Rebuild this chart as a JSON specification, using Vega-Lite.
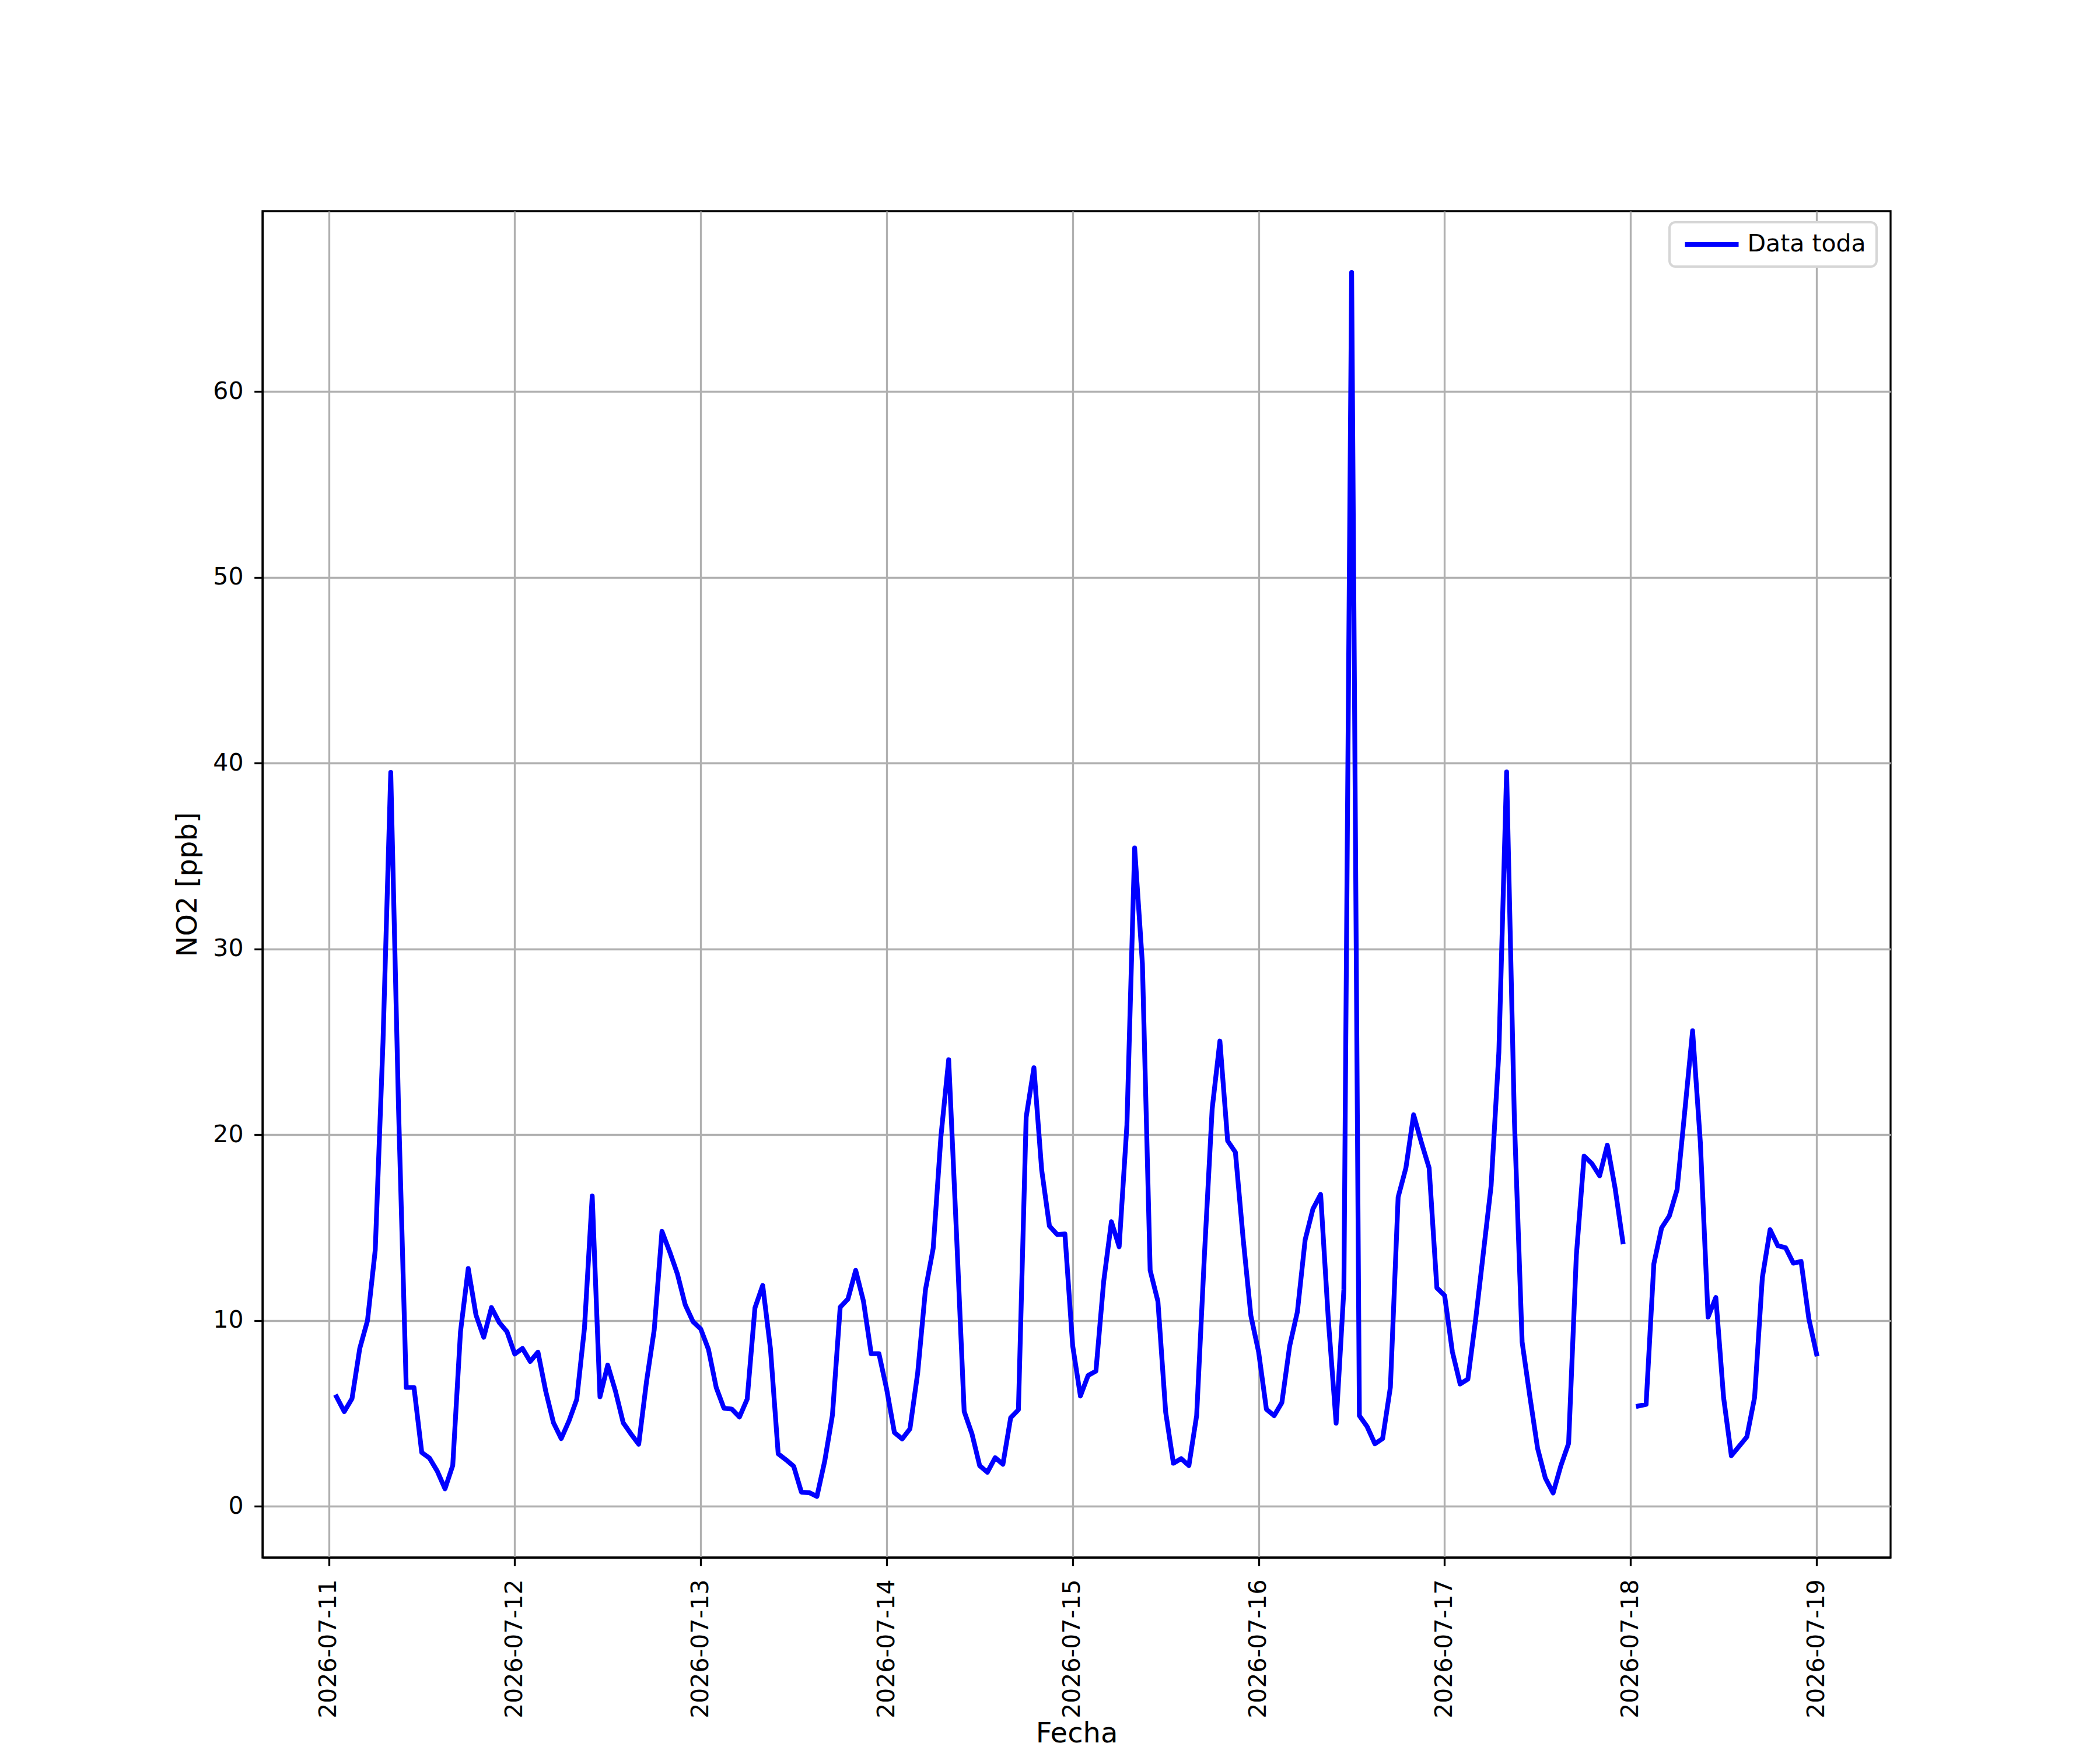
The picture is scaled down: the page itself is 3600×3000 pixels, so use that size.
{
  "$schema": "https://vega.github.io/schema/vega-lite/v6.json",
  "width": 2791,
  "height": 2308,
  "autosize": {"type": "none"},
  "padding": {"left": 450, "top": 362, "right": 359, "bottom": 330},
  "background": "white",
  "config": {
    "font": "DejaVu Sans",
    "view": {"stroke": "black", "strokeWidth": 3.3},
    "legend": {"strokeWidth": 4}
  },
  "data": {
    "values": [
      {"t": "2026-07-11T01:00", "v": 5.9}, {"t": "2026-07-11T02:00", "v": 5.1}, {"t": "2026-07-11T03:00", "v": 5.8},
      {"t": "2026-07-11T04:00", "v": 8.5}, {"t": "2026-07-11T05:00", "v": 10.0}, {"t": "2026-07-11T06:00", "v": 13.8},
      {"t": "2026-07-11T07:00", "v": 25.0}, {"t": "2026-07-11T08:00", "v": 39.5}, {"t": "2026-07-11T09:00", "v": 21.5},
      {"t": "2026-07-11T10:00", "v": 6.4}, {"t": "2026-07-11T11:00", "v": 6.4}, {"t": "2026-07-11T12:00", "v": 2.9},
      {"t": "2026-07-11T13:00", "v": 2.6}, {"t": "2026-07-11T14:00", "v": 1.9}, {"t": "2026-07-11T15:00", "v": 0.95},
      {"t": "2026-07-11T16:00", "v": 2.2}, {"t": "2026-07-11T17:00", "v": 9.4}, {"t": "2026-07-11T18:00", "v": 12.8},
      {"t": "2026-07-11T19:00", "v": 10.3}, {"t": "2026-07-11T20:00", "v": 9.1}, {"t": "2026-07-11T21:00", "v": 10.7},
      {"t": "2026-07-11T22:00", "v": 9.9}, {"t": "2026-07-11T23:00", "v": 9.4},
      {"t": "2026-07-12T00:00", "v": 8.2}, {"t": "2026-07-12T01:00", "v": 8.5}, {"t": "2026-07-12T02:00", "v": 7.8},
      {"t": "2026-07-12T03:00", "v": 8.3}, {"t": "2026-07-12T04:00", "v": 6.2}, {"t": "2026-07-12T05:00", "v": 4.5},
      {"t": "2026-07-12T06:00", "v": 3.65}, {"t": "2026-07-12T07:00", "v": 4.6}, {"t": "2026-07-12T08:00", "v": 5.75},
      {"t": "2026-07-12T09:00", "v": 9.6}, {"t": "2026-07-12T10:00", "v": 16.7}, {"t": "2026-07-12T11:00", "v": 5.9},
      {"t": "2026-07-12T12:00", "v": 7.6}, {"t": "2026-07-12T13:00", "v": 6.2}, {"t": "2026-07-12T14:00", "v": 4.5},
      {"t": "2026-07-12T15:00", "v": 3.9}, {"t": "2026-07-12T16:00", "v": 3.35}, {"t": "2026-07-12T17:00", "v": 6.7},
      {"t": "2026-07-12T18:00", "v": 9.5}, {"t": "2026-07-12T19:00", "v": 14.8}, {"t": "2026-07-12T20:00", "v": 13.7},
      {"t": "2026-07-12T21:00", "v": 12.5}, {"t": "2026-07-12T22:00", "v": 10.85}, {"t": "2026-07-12T23:00", "v": 9.95},
      {"t": "2026-07-13T00:00", "v": 9.55}, {"t": "2026-07-13T01:00", "v": 8.45}, {"t": "2026-07-13T02:00", "v": 6.4},
      {"t": "2026-07-13T03:00", "v": 5.28}, {"t": "2026-07-13T04:00", "v": 5.24}, {"t": "2026-07-13T05:00", "v": 4.81},
      {"t": "2026-07-13T06:00", "v": 5.78}, {"t": "2026-07-13T07:00", "v": 10.68}, {"t": "2026-07-13T08:00", "v": 11.89},
      {"t": "2026-07-13T09:00", "v": 8.49}, {"t": "2026-07-13T10:00", "v": 2.83}, {"t": "2026-07-13T11:00", "v": 2.51},
      {"t": "2026-07-13T12:00", "v": 2.16}, {"t": "2026-07-13T13:00", "v": 0.76}, {"t": "2026-07-13T14:00", "v": 0.74},
      {"t": "2026-07-13T15:00", "v": 0.54}, {"t": "2026-07-13T16:00", "v": 2.43}, {"t": "2026-07-13T17:00", "v": 4.92},
      {"t": "2026-07-13T18:00", "v": 10.72}, {"t": "2026-07-13T19:00", "v": 11.16}, {"t": "2026-07-13T20:00", "v": 12.7},
      {"t": "2026-07-13T21:00", "v": 11.05}, {"t": "2026-07-13T22:00", "v": 8.22}, {"t": "2026-07-13T23:00", "v": 8.22},
      {"t": "2026-07-14T00:00", "v": 6.3}, {"t": "2026-07-14T01:00", "v": 3.97}, {"t": "2026-07-14T02:00", "v": 3.63},
      {"t": "2026-07-14T03:00", "v": 4.17}, {"t": "2026-07-14T04:00", "v": 7.18}, {"t": "2026-07-14T05:00", "v": 11.65},
      {"t": "2026-07-14T06:00", "v": 13.89}, {"t": "2026-07-14T07:00", "v": 19.91}, {"t": "2026-07-14T08:00", "v": 24.04},
      {"t": "2026-07-14T09:00", "v": 14.75}, {"t": "2026-07-14T10:00", "v": 5.11}, {"t": "2026-07-14T11:00", "v": 3.91},
      {"t": "2026-07-14T12:00", "v": 2.19}, {"t": "2026-07-14T13:00", "v": 1.84}, {"t": "2026-07-14T14:00", "v": 2.62},
      {"t": "2026-07-14T15:00", "v": 2.27}, {"t": "2026-07-14T16:00", "v": 4.77}, {"t": "2026-07-14T17:00", "v": 5.2},
      {"t": "2026-07-14T18:00", "v": 20.95}, {"t": "2026-07-14T19:00", "v": 23.61}, {"t": "2026-07-14T20:00", "v": 18.11},
      {"t": "2026-07-14T21:00", "v": 15.09}, {"t": "2026-07-14T22:00", "v": 14.63}, {"t": "2026-07-14T23:00", "v": 14.66},
      {"t": "2026-07-15T00:00", "v": 8.65}, {"t": "2026-07-15T01:00", "v": 5.94}, {"t": "2026-07-15T02:00", "v": 7.05},
      {"t": "2026-07-15T03:00", "v": 7.28}, {"t": "2026-07-15T04:00", "v": 12.09}, {"t": "2026-07-15T05:00", "v": 15.32},
      {"t": "2026-07-15T06:00", "v": 13.97}, {"t": "2026-07-15T07:00", "v": 20.52}, {"t": "2026-07-15T08:00", "v": 35.43},
      {"t": "2026-07-15T09:00", "v": 29.2}, {"t": "2026-07-15T10:00", "v": 12.7}, {"t": "2026-07-15T11:00", "v": 11.04},
      {"t": "2026-07-15T12:00", "v": 5.08}, {"t": "2026-07-15T13:00", "v": 2.32}, {"t": "2026-07-15T14:00", "v": 2.57},
      {"t": "2026-07-15T15:00", "v": 2.2}, {"t": "2026-07-15T16:00", "v": 4.89}, {"t": "2026-07-15T17:00", "v": 13.5},
      {"t": "2026-07-15T18:00", "v": 21.38}, {"t": "2026-07-15T19:00", "v": 25.04}, {"t": "2026-07-15T20:00", "v": 19.67},
      {"t": "2026-07-15T21:00", "v": 19.06}, {"t": "2026-07-15T22:00", "v": 14.41}, {"t": "2026-07-15T23:00", "v": 10.26},
      {"t": "2026-07-16T00:00", "v": 8.3}, {"t": "2026-07-16T01:00", "v": 5.23}, {"t": "2026-07-16T02:00", "v": 4.88},
      {"t": "2026-07-16T03:00", "v": 5.59}, {"t": "2026-07-16T04:00", "v": 8.63}, {"t": "2026-07-16T05:00", "v": 10.47},
      {"t": "2026-07-16T06:00", "v": 14.34}, {"t": "2026-07-16T07:00", "v": 16.0}, {"t": "2026-07-16T08:00", "v": 16.79},
      {"t": "2026-07-16T09:00", "v": 10.0}, {"t": "2026-07-16T10:00", "v": 4.48}, {"t": "2026-07-16T11:00", "v": 11.67},
      {"t": "2026-07-16T12:00", "v": 66.4}, {"t": "2026-07-16T13:00", "v": 4.88}, {"t": "2026-07-16T14:00", "v": 4.29},
      {"t": "2026-07-16T15:00", "v": 3.37}, {"t": "2026-07-16T16:00", "v": 3.65}, {"t": "2026-07-16T17:00", "v": 6.41},
      {"t": "2026-07-16T18:00", "v": 16.64}, {"t": "2026-07-16T19:00", "v": 18.21}, {"t": "2026-07-16T20:00", "v": 21.07},
      {"t": "2026-07-16T21:00", "v": 19.59}, {"t": "2026-07-16T22:00", "v": 18.21}, {"t": "2026-07-16T23:00", "v": 11.76},
      {"t": "2026-07-17T00:00", "v": 11.35}, {"t": "2026-07-17T01:00", "v": 8.32}, {"t": "2026-07-17T02:00", "v": 6.59},
      {"t": "2026-07-17T03:00", "v": 6.85}, {"t": "2026-07-17T04:00", "v": 10.05}, {"t": "2026-07-17T05:00", "v": 13.65},
      {"t": "2026-07-17T06:00", "v": 17.25}, {"t": "2026-07-17T07:00", "v": 24.45}, {"t": "2026-07-17T08:00", "v": 39.52},
      {"t": "2026-07-17T09:00", "v": 20.85}, {"t": "2026-07-17T10:00", "v": 8.85}, {"t": "2026-07-17T11:00", "v": 5.92},
      {"t": "2026-07-17T12:00", "v": 3.12}, {"t": "2026-07-17T13:00", "v": 1.52}, {"t": "2026-07-17T14:00", "v": 0.72},
      {"t": "2026-07-17T15:00", "v": 2.19}, {"t": "2026-07-17T16:00", "v": 3.39}, {"t": "2026-07-17T17:00", "v": 13.52},
      {"t": "2026-07-17T18:00", "v": 18.85}, {"t": "2026-07-17T19:00", "v": 18.45}, {"t": "2026-07-17T20:00", "v": 17.79},
      {"t": "2026-07-17T21:00", "v": 19.44}, {"t": "2026-07-17T22:00", "v": 17.12}, {"t": "2026-07-17T23:00", "v": 14.24},
      {"t": "2026-07-18T00:00", "v": null}, {"t": "2026-07-18T01:00", "v": 5.4}, {"t": "2026-07-18T02:00", "v": 5.49},
      {"t": "2026-07-18T03:00", "v": 13.05}, {"t": "2026-07-18T04:00", "v": 14.99}, {"t": "2026-07-18T05:00", "v": 15.63},
      {"t": "2026-07-18T06:00", "v": 17.05}, {"t": "2026-07-18T07:00", "v": 21.3}, {"t": "2026-07-18T08:00", "v": 25.59},
      {"t": "2026-07-18T09:00", "v": 19.59}, {"t": "2026-07-18T10:00", "v": 10.19}, {"t": "2026-07-18T11:00", "v": 11.24},
      {"t": "2026-07-18T12:00", "v": 5.86}, {"t": "2026-07-18T13:00", "v": 2.73}, {"t": "2026-07-18T14:00", "v": 3.23},
      {"t": "2026-07-18T15:00", "v": 3.74}, {"t": "2026-07-18T16:00", "v": 5.86}, {"t": "2026-07-18T17:00", "v": 12.31},
      {"t": "2026-07-18T18:00", "v": 14.89}, {"t": "2026-07-18T19:00", "v": 14.03}, {"t": "2026-07-18T20:00", "v": 13.92},
      {"t": "2026-07-18T21:00", "v": 13.09}, {"t": "2026-07-18T22:00", "v": 13.18}, {"t": "2026-07-18T23:00", "v": 10.1},
      {"t": "2026-07-19T00:00", "v": 8.2}
    ]
  },
  "mark": {
    "type": "line",
    "strokeWidth": 8.2,
    "strokeJoin": "round",
    "strokeCap": "square",
    "invalid": "break-paths-show-domains"
  },
  "encoding": {
    "x": {
      "field": "t",
      "type": "temporal",
      "title": "Fecha",
      "scale": {
        "domain": [
          {"year": 2026, "month": 7, "date": 10, "hours": 15, "minutes": 27},
          {"year": 2026, "month": 7, "date": 19, "hours": 9, "minutes": 33}
        ]
      },
      "axis": {
        "tickCount": {"interval": "day", "step": 1},
        "format": "%Y-%m-%d",
        "labelAngle": -90,
        "labelAlign": "right",
        "labelBaseline": "middle",
        "labelFontSize": 41,
        "labelColor": "black",
        "labelPadding": 22.7,
        "labelLimit": 1000,
        "labelOverlap": false,
        "labelFlush": false,
        "labelBound": false,
        "tickSize": 14.3,
        "tickWidth": 3.3,
        "tickColor": "black",
        "domainColor": "black",
        "domainWidth": 3.3,
        "grid": true,
        "gridColor": "#b0b0b0",
        "gridWidth": 3.3,
        "titleFontSize": 48,
        "titleFontWeight": "normal",
        "titleColor": "black",
        "titleX": 1395.5,
        "titleY": 302,
        "titleAlign": "center",
        "titleBaseline": "middle"
      }
    },
    "y": {
      "field": "v",
      "type": "quantitative",
      "title": "NO2 [ppb]",
      "scale": {"domain": [-2.75, 69.7], "nice": false, "zero": false},
      "axis": {
        "values": [0, 10, 20, 30, 40, 50, 60],
        "labelFontSize": 41,
        "labelColor": "black",
        "labelPadding": 18.7,
        "labelLimit": 1000,
        "tickSize": 14.3,
        "tickWidth": 3.3,
        "tickColor": "black",
        "domainColor": "black",
        "domainWidth": 3.3,
        "grid": true,
        "gridColor": "#b0b0b0",
        "gridWidth": 3.3,
        "titleFontSize": 48,
        "titleFontWeight": "normal",
        "titleColor": "black",
        "titleAngle": -90,
        "titleX": -128,
        "titleY": 1154,
        "titleAlign": "center",
        "titleBaseline": "middle"
      }
    },
    "color": {
      "datum": "Data toda",
      "type": "nominal",
      "scale": {"range": ["#0000ff"]},
      "legend": {
        "title": null,
        "orient": "none",
        "legendX": 2412,
        "legendY": 19,
        "symbolType": "M-1,0H7",
        "symbolSize": 529,
        "symbolStrokeWidth": 8.2,
        "symbolFillColor": "transparent",
        "labelOffset": 75,
        "labelFontSize": 41,
        "labelColor": "black",
        "labelLimit": 1000,
        "padding": 17.5,
        "fillColor": "white",
        "strokeColor": "#d6d6d6",
        "cornerRadius": 10
      }
    }
  }
}
